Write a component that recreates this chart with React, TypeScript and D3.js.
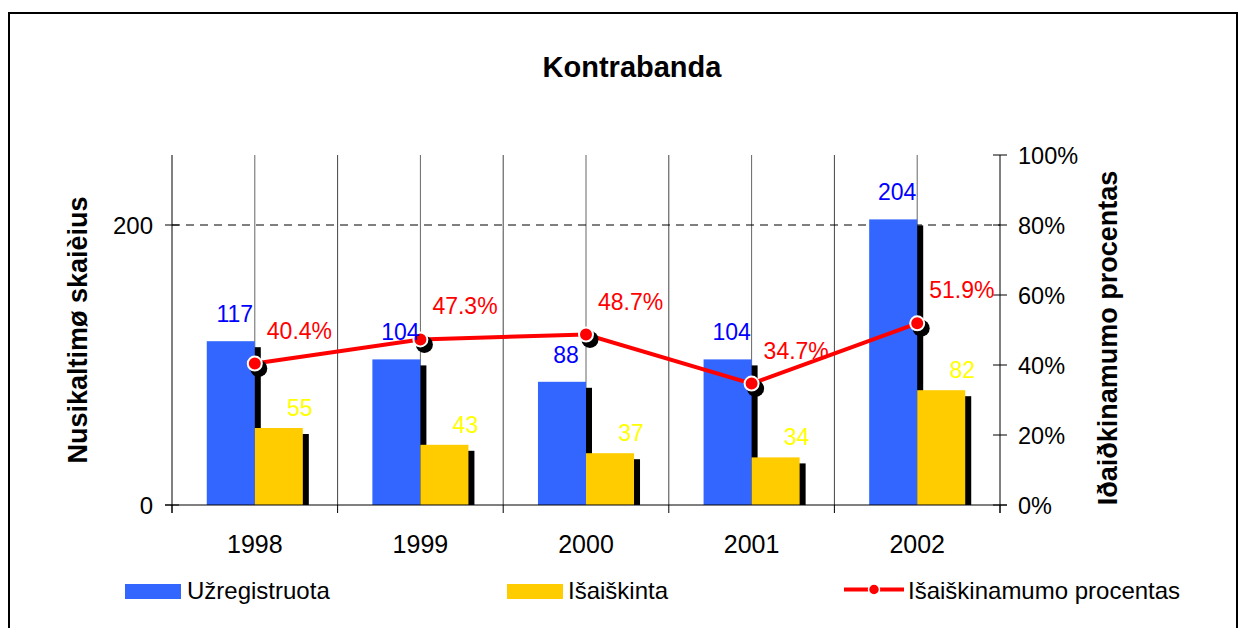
import React from "react";
import * as d3 from "d3";

const years = ["1998", "1999", "2000", "2001", "2002"];
const registered = [117, 104, 88, 104, 204];
const solved = [55, 43, 37, 34, 82];
const solvedPct = [40.4, 47.3, 48.7, 34.7, 51.9];
const leftTicks = [0, 200];
const rightTicks = [0, 20, 40, 60, 80, 100];

const FONT = "'Liberation Sans', Arial, sans-serif";

const App = () => {
  const width = 1242;
  const height = 628;
  const margin = { top: 155, right: 242, bottom: 123, left: 172 };
  const x0 = margin.left;
  const x1 = width - margin.right;
  const yTop = margin.top;
  const yBot = height - margin.bottom;

  const xScale = d3.scaleBand().domain(years).range([x0, x1]).padding(0);
  const yLeft = d3.scaleLinear().domain([0, 250]).range([yBot, yTop]);
  const yRight = d3.scaleLinear().domain([0, 100]).range([yBot, yTop]);

  const bw = xScale.bandwidth() * 0.29;
  const center = (d: string) => (xScale(d) as number) + xScale.bandwidth() / 2;

  const lineGen = d3.line<number>()
    .x((_, i) => center(years[i]))
    .y(d => yRight(d));

  const boundaries = years.map(d => xScale(d) as number).concat([x1]);

  return (
    <div style={{ position: "absolute", left: 0, top: 0 }}>
      <svg width={width} height={height} style={{ display: "block", fontFamily: FONT }}>
        <rect x={0} y={0} width={width} height={height} fill="#fff" />
        <rect x={9} y={13} width={1228} height={640} fill="none" stroke="#000" strokeWidth={2} />

        <text x={632} y={77} textAnchor="middle" fontSize={29} fontWeight="bold">Kontrabanda</text>

        {/* vertical grid */}
        {boundaries.slice(1, -1).map((b, i) => (
          <line key={"b" + i} x1={b} x2={b} y1={yTop} y2={yBot} stroke="#444" strokeWidth={1} />
        ))}
        {years.map(d => (
          <line key={"c" + d} x1={center(d)} x2={center(d)} y1={yTop} y2={yBot} stroke="#666" strokeWidth={1} />
        ))}
        <line x1={x0} x2={x1} y1={yLeft(200)} y2={yLeft(200)} stroke="#000" strokeWidth={1} strokeDasharray="8,6" />

        {/* bar shadows */}
        {years.map((d, i) => (
          <g key={"s" + d}>
            <rect x={center(d) - bw + 6} y={yLeft(registered[i]) + 6} width={bw} height={yBot - yLeft(registered[i]) - 6} fill="#000" />
            <rect x={center(d) + 6} y={yLeft(solved[i]) + 6} width={bw} height={yBot - yLeft(solved[i]) - 6} fill="#000" />
          </g>
        ))}
        {years.map((d, i) => (
          <g key={"r" + d}>
            <rect x={center(d) - bw} y={yLeft(registered[i])} width={bw} height={yBot - yLeft(registered[i])} fill="#3366FF" />
            <rect x={center(d)} y={yLeft(solved[i])} width={bw} height={yBot - yLeft(solved[i])} fill="#FFCC00" />
          </g>
        ))}

        {/* axes */}
        <line x1={x0} x2={x0} y1={yTop} y2={yBot + 8} stroke="#000" strokeWidth={1} />
        <line x1={x1} x2={x1} y1={yTop} y2={yBot + 8} stroke="#000" strokeWidth={1} />
        <line x1={x0 - 7} x2={x1 + 7} y1={yBot} y2={yBot} stroke="#000" strokeWidth={1} />
        {boundaries.map((b, i) => (
          <line key={"xt" + i} x1={b} x2={b} y1={yBot} y2={yBot + 8} stroke="#000" strokeWidth={1} />
        ))}
        {leftTicks.map(t => (
          <g key={"lt" + t}>
            <line x1={x0 - 7} x2={x0 + 7} y1={yLeft(t)} y2={yLeft(t)} stroke="#000" strokeWidth={1} />
            <text x={x0 - 19} y={yLeft(t) + 9} textAnchor="end" fontSize={24}>{t}</text>
          </g>
        ))}
        {rightTicks.map(t => (
          <g key={"rt" + t}>
            <line x1={x1 - 7} x2={x1 + 7} y1={yRight(t)} y2={yRight(t)} stroke="#000" strokeWidth={1} />
            <text x={x1 + 18} y={yRight(t) + 8.5} fontSize={23.5}>{t + "%"}</text>
          </g>
        ))}
        {years.map(d => (
          <text key={"xl" + d} x={center(d)} y={553} textAnchor="middle" fontSize={25}>{d}</text>
        ))}

        <text transform={`translate(87,330) rotate(-90)`} textAnchor="middle" fontSize={27} fontWeight="bold">Nusikaltimø skaièius</text>
        <text transform={`translate(1117,338) rotate(-90)`} textAnchor="middle" fontSize={27} fontWeight="bold">Iðaiðkinamumo procentas</text>

        {/* percent line */}
        <path d={lineGen(solvedPct) || ""} fill="none" stroke="#FF0000" strokeWidth={4} />
        {solvedPct.map((p, i) => (
          <circle key={"ms" + i} cx={center(years[i]) + 4} cy={yRight(p) + 5} r={8.5} fill="#000" />
        ))}
        {solvedPct.map((p, i) => (
          <circle key={"m" + i} cx={center(years[i])} cy={yRight(p)} r={7} fill="#FF0000" stroke="#fff" strokeWidth={2} />
        ))}

        {/* data labels */}
        {years.map((d, i) => (
          <g key={"dl" + d} fontSize={23}>
            <text x={center(d) - bw / 2 + 4} y={yLeft(registered[i]) - 19} textAnchor="middle" fill="#0000FF">{registered[i]}</text>
            <text x={center(d) + bw / 2 + 21} y={yLeft(solved[i]) - 12} textAnchor="middle" fill="#FFFF00">{solved[i]}</text>
            <text x={center(d) + 12} y={yRight(solvedPct[i]) - 25} fill="#FF0000">{solvedPct[i].toFixed(1) + "%"}</text>
          </g>
        ))}

        {/* legend */}
        <rect x={125} y={584} width={56} height={15} fill="#3366FF" />
        <text x={187} y={599} fontSize={24}>Užregistruota</text>
        <rect x={507} y={584} width={56} height={15} fill="#FFCC00" />
        <text x={568} y={599} fontSize={24}>Išaiškinta</text>
        <line x1={844} x2={904} y1={589.5} y2={589.5} stroke="#FF0000" strokeWidth={4} />
        <circle cx={874} cy={589.5} r={5.5} fill="#FF0000" stroke="#fff" strokeWidth={1.5} />
        <text x={908} y={599} fontSize={24}>Išaiškinamumo procentas</text>
      </svg>
    </div>
  );
};

export default App;
